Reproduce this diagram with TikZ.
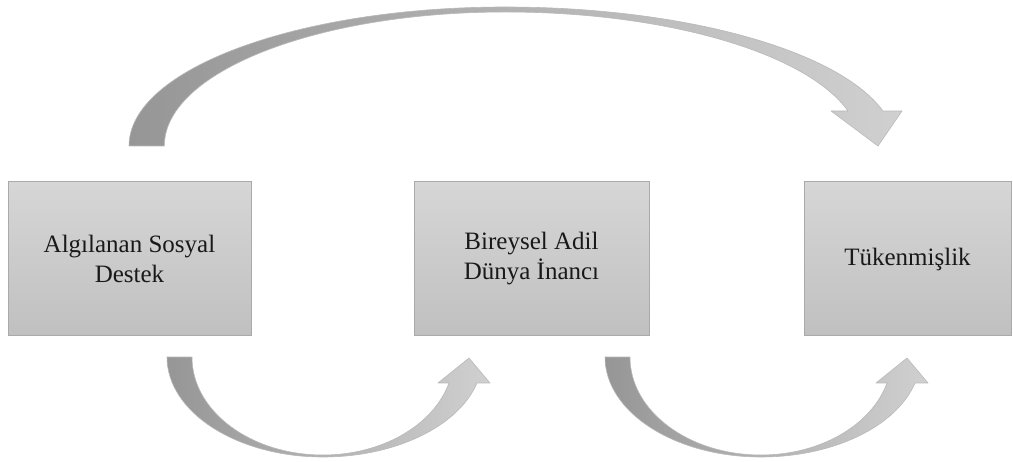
\documentclass[tikz,border=0pt]{standalone}
\usepackage{fontspec}
\setmainfont{Liberation Serif}
\definecolor{boxtop}{RGB}{214,214,214}
\definecolor{boxbot}{RGB}{192,192,192}
\definecolor{boxline}{RGB}{170,170,170}
\definecolor{arrdark}{RGB}{150,150,150}
\definecolor{arrlight}{RGB}{208,208,208}
\definecolor{arrline}{RGB}{185,185,185}
\tikzset{
  stagebox/.style={draw=boxline, line width=1pt, top color=boxtop, bottom color=boxbot,
    minimum height=154pt, inner sep=0pt, align=center, text=black!90,
    font=\fontsize{25}{30}\selectfont},
  bigarrow/.style={draw=arrline, line width=0.6pt, left color=arrdark, right color=arrlight, line join=round}
}
\begin{document}
\begin{tikzpicture}[x=1pt,y=1pt]
\useasboundingbox (0,0) rectangle (1013,461);
% boxes
\node[stagebox, minimum width=243pt] (a) at (129.5,202) {Algılanan Sosyal\\Destek};
\node[stagebox, minimum width=235pt] (b) at (531.5,202) {Bireysel Adil\\Dünya İnancı};
\node[stagebox, minimum width=207pt] (c) at (907.5,202) {Tükenmişlik};
% top curved arrow
\shade[bigarrow] (129,315)
  arc[start angle=180, end angle=90, x radius=376, y radius=139]
  arc[start angle=90, end angle=14.58, x radius=390.6, y radius=139]
  -- (902,350) -- (878,315) -- (831,350) -- (848,350)
  arc[start angle=15.14, end angle=90, x radius=355, y radius=134]
  arc[start angle=90, end angle=180, x radius=341, y radius=134]
  -- cycle;
% bottom curved arrows
\foreach \dx in {0,438}{
\begin{scope}[xshift=\dx pt]
\shade[bigarrow] (167,104)
  arc[start angle=180, end angle=270, x radius=156, y radius=100]
  arc[start angle=270, end angle=344.93, x radius=159.5, y radius=100]
  -- (490,78) -- (469,103) -- (438,78) -- (449,78)
  arc[start angle=344.62, end angle=270, x radius=130.7, y radius=98]
  arc[start angle=270, end angle=180, x radius=131, y radius=98]
  -- cycle;
\end{scope}
}
\end{tikzpicture}
\end{document}
